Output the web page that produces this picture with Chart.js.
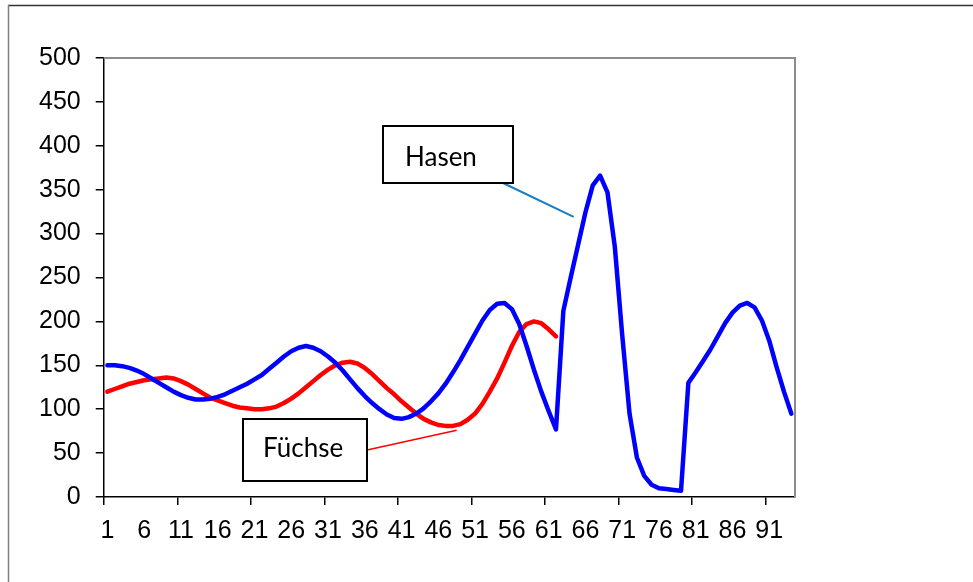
<!DOCTYPE html>
<html>
<head>
<meta charset="utf-8">
<script src="https://cdn.jsdelivr.net/npm/chart.js@4/dist/chart.umd.min.js"></script>
<style>
    html, body { margin: 0; padding: 0; background: #fff; }
    #wrap { width: 973px; height: 582px; }
</style>
</head>
<body>
<div id="wrap"><canvas id="chart" width="973" height="582"></canvas></div>
<script>
// Hasen (blue) and Füchse (red)
const hasen = [
    150, 150, 149, 147, 144, 140, 135, 130, 125, 120,
    116, 113, 111, 111, 112, 114, 117, 121, 125, 129,
    134, 139, 146, 153, 160, 166, 170, 172, 170, 166,
    160, 153, 144, 134, 124, 115, 107, 100, 94, 90,
    89, 91, 95, 101, 109, 118, 129, 142, 156, 171,
    186, 201, 213, 220, 221, 214, 197, 172, 145, 120,
    98, 77, 212, 250, 287, 324, 355, 366, 347, 285,
    185, 95, 45, 24, 14, 10, 9, 8, 7, 130,
    142, 155, 168, 183, 198, 210, 218, 221, 216, 201,
    178, 148, 120, 95
];
const fuechse = [
    120, 123, 126, 129, 131, 133, 134, 135, 136, 135,
    132, 128, 123, 118, 113, 110, 107, 104, 102, 101,
    100, 100, 101, 103, 107, 112, 118, 125, 132, 139,
    145, 150, 153, 154, 152, 147, 140, 132, 124, 117,
    109, 102, 95, 89, 85, 82, 81, 81, 83, 88,
    95, 106, 120, 135, 153, 172, 188, 197, 200, 198,
    191, 183
];
const categories = hasen.map((v, i) => String(i + 1));
const labelStep = 5;   // every 5th category gets a label
const tickStep = 10;   // tick marks every 10 categories
const axisFont = "'Liberation Sans', Arial, sans-serif";

const annotations = {
    id: 'annotations',
    beforeDatasetsDraw(chart) {
        const ctx = chart.ctx;
        const a = chart.chartArea;
        ctx.save();
        // outer chart frame (cut off at right and bottom)
        ctx.lineWidth = 1.5;
        ctx.strokeStyle = '#333';
        ctx.beginPath();
        ctx.moveTo(8, 5.5);
        ctx.lineTo(973, 5.5);
        ctx.stroke();
        ctx.strokeStyle = '#808080';
        ctx.beginPath();
        ctx.moveTo(8.5, 5);
        ctx.lineTo(8.5, 582);
        ctx.stroke();
        // plot area border, top and right
        ctx.strokeStyle = '#8c8c8c';
        ctx.lineWidth = 2;
        ctx.beginPath();
        ctx.moveTo(a.left, a.top);
        ctx.lineTo(a.right, a.top);
        ctx.lineTo(a.right, a.bottom);
        ctx.stroke();
        ctx.restore();
    },
    afterDraw(chart) {
        const ctx = chart.ctx;
        const x = chart.scales.x;
        const y = chart.scales.y;
        ctx.save();
        // leader lines
        ctx.lineWidth = 2;
        ctx.strokeStyle = '#1a7cc1';
        ctx.beginPath();
        ctx.moveTo(503, 183);
        ctx.lineTo(x.getPixelForValue(63.4), y.getPixelForValue(319));
        ctx.stroke();
        ctx.lineWidth = 1.5;
        ctx.strokeStyle = '#ff0000';
        ctx.beginPath();
        ctx.moveTo(367, 450);
        ctx.lineTo(x.getPixelForValue(47.5), y.getPixelForValue(76));
        ctx.stroke();
        // label boxes
        ctx.fillStyle = '#fff';
        ctx.strokeStyle = '#000';
        ctx.lineWidth = 2;
        ctx.fillRect(383, 126, 130, 57);
        ctx.strokeRect(383, 126, 130, 57);
        ctx.fillRect(243, 419, 124, 62);
        ctx.strokeRect(243, 419, 124, 62);
        ctx.fillStyle = '#000';
        ctx.font = '26px Lato';
        ctx.textBaseline = 'alphabetic';
        ctx.fillText('Hasen', 405, 166);
        ctx.fillText('Füchse', 263, 457);
        ctx.restore();
    }
};

new Chart(document.getElementById('chart'), {
    type: 'line',
    data: {
        labels: categories,
        datasets: [{
            label: 'Hasen',
            data: hasen,
            borderColor: '#0000ff',
            borderWidth: 4.5,
            pointRadius: 0,
            tension: 0,
            borderJoinStyle: 'round',
            borderCapStyle: 'round'
        }, {
            label: 'Füchse',
            data: fuechse,
            borderColor: '#ff0000',
            borderWidth: 4.5,
            pointRadius: 0,
            tension: 0,
            borderJoinStyle: 'round',
            borderCapStyle: 'round'
        }]
    },
    options: {
        responsive: false,
        animation: false,
        events: [],
        layout: {
            padding: { top: 58, right: 178, left: 24, bottom: 25 }
        },
        plugins: {
            legend: { display: false },
            tooltip: { enabled: false }
        },
        scales: {
            x: {
                offset: true,
                grid: {
                    offset: true,
                    drawOnChartArea: false,
                    drawTicks: true,
                    tickLength: 8,
                    lineWidth: 1.5,
                    color: (c) => (c.index % tickStep === 0 ? '#000' : 'rgba(0,0,0,0)')
                },
                border: { color: '#000', width: 1.5 },
                ticks: {
                    autoSkip: false,
                    maxRotation: 0,
                    minRotation: 0,
                    padding: 11,
                    color: '#000',
                    font: { family: axisFont, size: 25 },
                    callback: function (value, index) {
                        return index % labelStep === 0 ? this.getLabelForValue(value) : '';
                    }
                }
            },
            y: {
                min: 0,
                max: 500,
                grid: {
                    drawOnChartArea: false,
                    drawTicks: true,
                    tickLength: 8,
                    lineWidth: 1.5,
                    color: '#000'
                },
                border: { color: '#000', width: 1.5 },
                ticks: {
                    stepSize: 50,
                    padding: 15,
                    color: '#000',
                    font: { family: axisFont, size: 25 }
                }
            }
        }
    },
    plugins: [annotations]
});
</script>
</body>
</html>
